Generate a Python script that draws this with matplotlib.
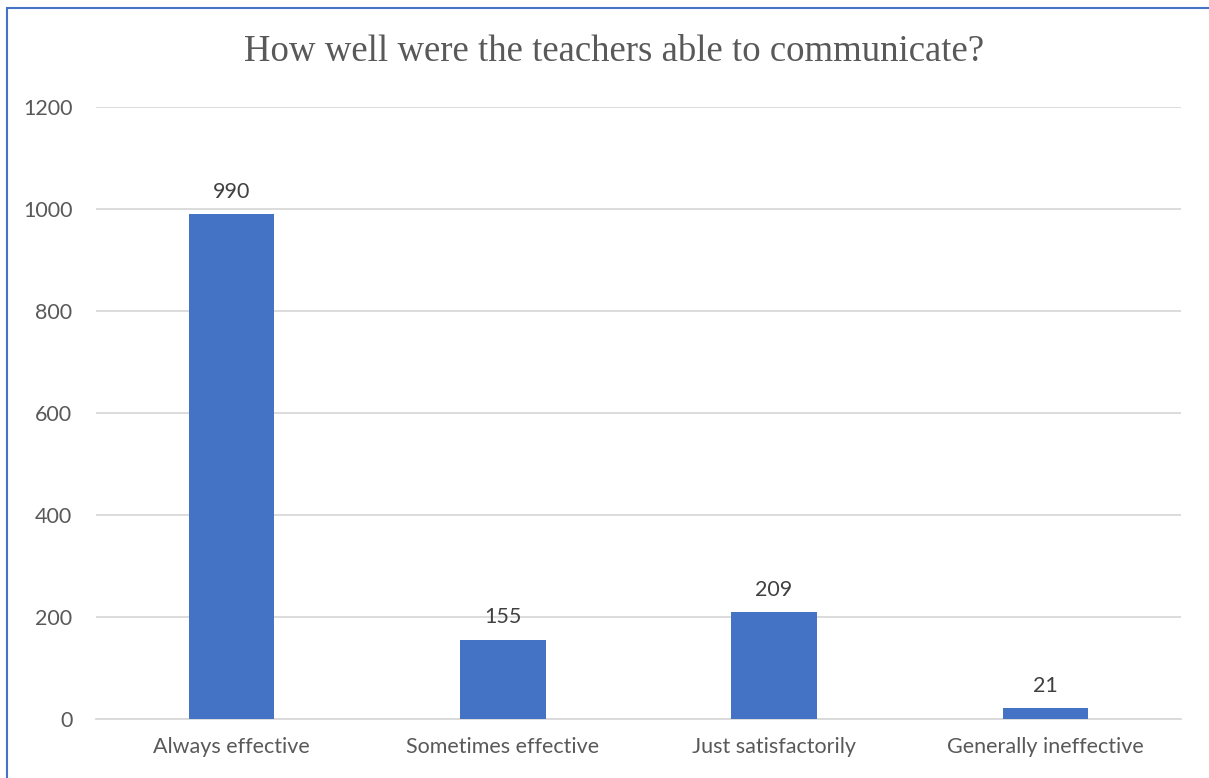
import matplotlib.pyplot as plt
from matplotlib.patches import Rectangle

categories = ["Always effective", "Sometimes effective", "Just satisfactorily", "Generally ineffective"]
counts = [990, 155, 209, 21]
yticks = [0, 200, 400, 600, 800, 1000, 1200]

BAR = "#4472C4"
GRID = "#D9D9D9"
TEXT = "#595959"

fig = plt.figure(figsize=(12.09, 7.78), dpi=100)
ax = fig.add_axes([96 / 1209, 1 - 719 / 778, (1181 - 96) / 1209, (719 - 107) / 778])

# chart border (runs off the right/bottom edges in the original)
fig.patches.append(Rectangle((7 / 1209, -0.1), 1.2, 1 - 8 / 778 + 0.1,
                             transform=fig.transFigure, fill=False,
                             edgecolor="#4472C4", linewidth=1.5))

x = range(len(categories))
ax.bar(x, counts, width=0.315, color=BAR, zorder=3)
ax.set_xlim(-0.5, len(categories) - 0.5)
ax.set_ylim(0, 1200)
ax.set_yticks(yticks)
ax.set_xticks(list(x))
ax.set_xticklabels(categories)

for s in ["top", "right", "left"]:
    ax.spines[s].set_visible(False)
ax.spines["bottom"].set_color(GRID)
ax.spines["bottom"].set_linewidth(1.3)
ax.grid(axis="y", color=GRID, linewidth=1.3, zorder=0)
ax.tick_params(length=0, labelsize=15.5, labelcolor=TEXT)
ax.tick_params(axis="x", pad=13)
ax.tick_params(axis="y", pad=17)
for lbl in ax.get_xticklabels() + ax.get_yticklabels():
    lbl.set_family("Lato")

for xi, v in zip(x, counts):
    ax.annotate(str(v), (xi, v), xytext=(0, 9), textcoords="offset points",
                ha="center", va="bottom", fontsize=15.5, color="#404040", family="Lato")

fig.text(614 / 1209, 1 - 52 / 778, "How well were the teachers able to communicate?",
         ha="center", va="center", fontsize=26.5, color=TEXT, family="Liberation Serif")

fig.savefig("out.png", dpi=100)
